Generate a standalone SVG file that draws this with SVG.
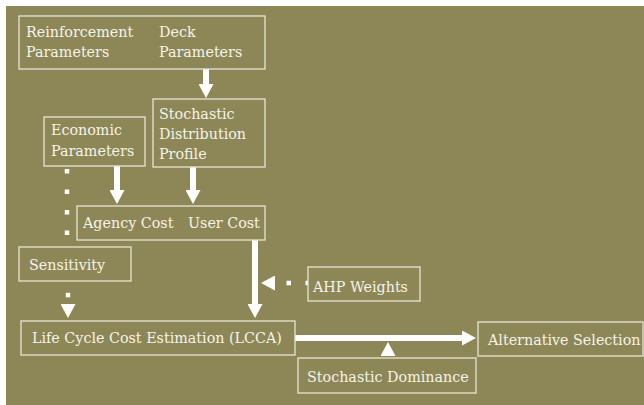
<svg xmlns="http://www.w3.org/2000/svg" width="644" height="405" viewBox="0 0 644 405">
  <style>
    .box { fill: none; stroke: #e7e4d4; stroke-width: 1.3; }
    .lbl { font-family: "DejaVu Serif", "Liberation Serif", serif; font-size: 14.3px; fill: #f5f3ea; }
    .shaft { stroke: #ffffff; stroke-width: 6; fill: none; }
    .dots { stroke: #ffffff; stroke-width: 4.5; fill: none; }
  </style>
  <defs>
    <marker id="head" markerUnits="userSpaceOnUse" viewBox="0 0 14 15" refX="0" refY="7.5" markerWidth="14" markerHeight="15" orient="auto">
      <path d="M0,0 L14,7.5 L0,15 Z" fill="#ffffff"/>
    </marker>
  </defs>

  <!-- page -->
  <rect x="0" y="0" width="644" height="405" fill="#ffffff"/>
  <rect x="6" y="6" width="638" height="399" fill="#8d8757"/>

  <!-- connectors -->
  <g id="connectors">
    <line class="shaft" x1="206" y1="69" x2="206" y2="84" marker-end="url(#head)"/>
    <line class="shaft" x1="117" y1="166" x2="117" y2="190" marker-end="url(#head)"/>
    <line class="shaft" x1="193" y1="167" x2="193" y2="190" marker-end="url(#head)"/>
    <line class="shaft" x1="255" y1="240" x2="255" y2="304" marker-end="url(#head)"/>
    <line class="shaft" x1="295" y1="338" x2="462" y2="338" marker-end="url(#head)"/>
    <!-- dotted feedback links -->
    <line class="dots" x1="67" y1="169" x2="67" y2="235" stroke-dasharray="4.5 16"/>
    <line class="dots" x1="68" y1="292.8" x2="68" y2="304" stroke-dasharray="4.5 30" marker-end="url(#head)"/>
    <line class="dots" x1="308" y1="283" x2="275" y2="283" stroke-dasharray="2.5 14.5 4.5 100" marker-end="url(#head)"/>
    <line x1="388" y1="358" x2="388" y2="356" stroke="none" marker-end="url(#head)"/>
  </g>

  <g id="n-params">
    <rect class="box" x="19" y="16" width="246" height="53"/>
    <text class="lbl" x="26" y="37">Reinforcement</text>
    <text class="lbl" x="26" y="57">Parameters</text>
    <text class="lbl" x="159" y="37">Deck</text>
    <text class="lbl" x="159" y="57">Parameters</text>
  </g>

  <g id="n-profile">
    <rect class="box" x="153" y="99" width="112" height="68"/>
    <text class="lbl" x="159" y="119">Stochastic</text>
    <text class="lbl" x="159" y="139">Distribution</text>
    <text class="lbl" x="159" y="159">Profile</text>
  </g>

  <g id="n-economic">
    <rect class="box" x="44" y="117" width="101" height="49"/>
    <text class="lbl" x="51" y="135">Economic</text>
    <text class="lbl" x="51" y="156">Parameters</text>
  </g>

  <g id="n-cost">
    <rect class="box" x="77" y="206" width="188" height="34"/>
    <text class="lbl" x="83" y="228">Agency Cost</text>
    <text class="lbl" x="188" y="228">User Cost</text>
  </g>

  <g id="n-sensitivity">
    <rect class="box" x="19" y="247" width="112" height="34"/>
    <text class="lbl" x="29" y="270">Sensitivity</text>
  </g>

  <g id="n-ahp">
    <rect class="box" x="308" y="267" width="112" height="34"/>
    <text class="lbl" x="313" y="292">AHP Weights</text>
  </g>

  <g id="n-lcca">
    <rect class="box" x="21" y="321" width="274" height="34"/>
    <text class="lbl" x="32" y="343">Life Cycle Cost Estimation (LCCA)</text>
  </g>

  <g id="n-alternative">
    <rect class="box" x="478" y="322" width="165" height="34"/>
    <text class="lbl" x="488" y="345">Alternative Selection</text>
  </g>

  <g id="n-dominance">
    <rect class="box" x="298" y="358" width="178" height="35"/>
    <text class="lbl" x="307" y="382">Stochastic Dominance</text>
  </g>
</svg>
